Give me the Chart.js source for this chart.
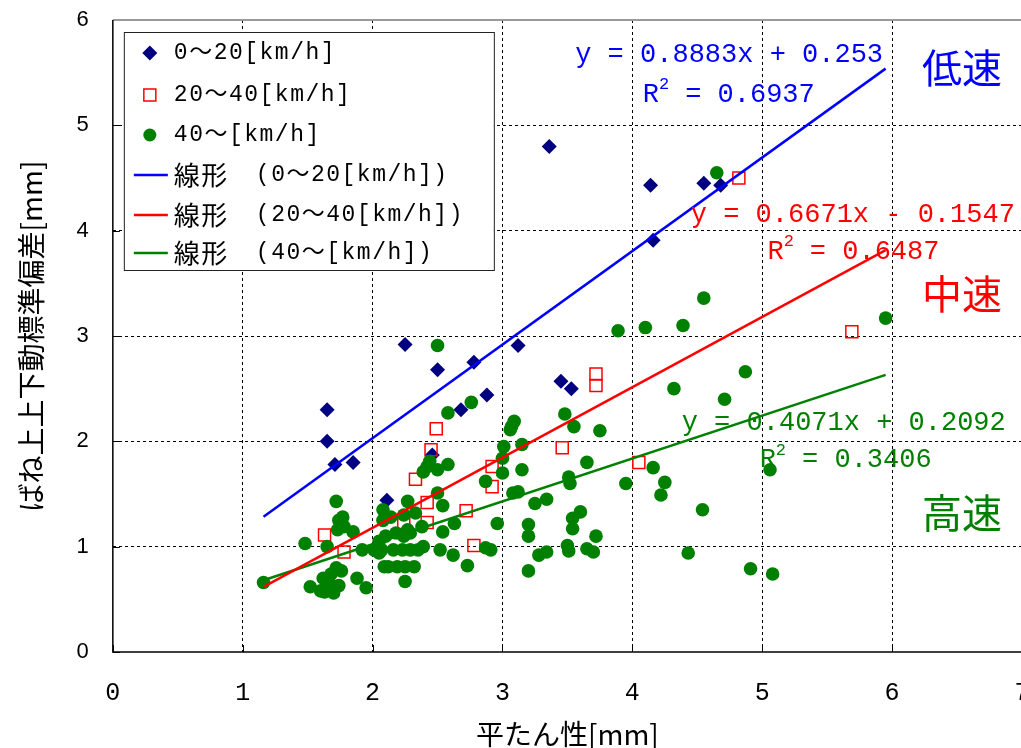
<!DOCTYPE html>
<html>
<head>
<meta charset="utf-8">
<script src="https://cdn.jsdelivr.net/npm/chart.js@4.4.1/dist/chart.umd.min.js"></script>
<style>
html, body { margin: 0; padding: 0; background: #fff; overflow: hidden; }
#wrap { width: 1057px; height: 748px; }
</style>
</head>
<body>
<div id="wrap"><canvas id="myChart"></canvas></div>
<script>
// series names and labels
const seriesNames = ['0～20[km/h]', '20～40[km/h]', '40～[km/h]']
const speedNames = ['低速', '中速', '高速']
const xTitle = '平たん性[mm]'
const yTitle = 'ばね上上下動標準偏差[mm]'
const xTicks = [0, 1, 2, 3, 4, 5, 6, 7]
const yTicks = [0, 1, 2, 3, 4, 5, 6]

// 0-20 km/h  [平たん性, 標準偏差]
const lowSpeed = [
  [1.65, 2.30], [1.65, 2.00], [1.71, 1.78], [1.85, 1.80], [2.11, 1.44],
  [2.25, 2.92], [2.50, 2.68], [2.46, 1.87], [2.68, 2.30], [2.78, 2.75],
  [2.88, 2.44], [3.12, 2.91], [3.36, 4.80], [3.45, 2.57], [3.53, 2.50],
  [4.14, 4.43], [4.16, 3.91], [4.55, 4.45], [4.68, 4.43]
]

// 20-40 km/h
const midSpeed = [
  [1.63, 1.11], [1.78, 0.95], [2.24, 1.23], [2.33, 1.64], [2.42, 1.42],
  [2.42, 1.23], [2.45, 1.92], [2.49, 2.12], [2.72, 1.34], [2.78, 1.01],
  [2.92, 1.76], [2.92, 1.57], [3.46, 1.94], [3.72, 2.64], [3.72, 2.53],
  [4.05, 1.80], [4.82, 4.50], [5.69, 3.04]
]

// 40- km/h
const highSpeed = [
  [1.16, 0.66], [1.48, 1.03], [1.52, 0.62], [1.60, 0.58], [1.62, 0.70],
  [1.63, 0.57], [1.65, 0.63], [1.65, 1.00], [1.66, 0.68], [1.68, 0.74],
  [1.70, 0.56], [1.72, 0.80], [1.72, 1.43], [1.74, 0.63], [1.74, 1.25],
  [1.76, 0.77], [1.77, 1.28], [1.78, 1.19], [1.73, 1.16], [1.85, 1.14],
  [1.88, 0.70], [1.92, 0.97], [1.95, 0.61], [2.01, 0.97], [2.05, 1.05],
  [2.05, 0.94], [2.07, 0.97], [2.10, 1.10], [2.08, 1.35], [2.14, 1.28],
  [2.08, 1.25], [2.09, 0.81], [2.12, 0.81], [2.16, 0.97], [2.18, 1.13],
  [2.19, 0.81], [2.23, 0.97], [2.24, 1.10], [2.24, 1.30], [2.25, 0.81],
  [2.25, 0.67], [2.27, 1.43], [2.27, 1.16], [2.29, 0.97], [2.29, 1.13],
  [2.32, 0.81], [2.33, 1.32], [2.35, 0.97], [2.38, 1.19], [2.39, 1.00],
  [2.39, 1.71], [2.42, 1.76], [2.44, 1.81], [2.50, 1.73], [2.50, 1.51],
  [2.50, 2.91], [2.52, 0.97], [2.54, 1.39], [2.54, 1.14], [2.58, 1.78],
  [2.58, 2.27], [2.62, 0.92], [2.63, 1.22], [2.73, 0.82], [2.76, 2.37],
  [2.87, 1.62], [2.87, 0.99], [2.91, 0.97], [2.96, 1.22], [3.00, 1.84],
  [3.00, 1.70], [3.01, 1.95], [3.06, 2.11], [3.07, 2.14], [3.09, 2.19],
  [3.12, 1.52], [3.08, 1.51], [3.15, 1.97], [3.15, 1.73], [3.20, 1.21],
  [3.20, 1.10], [3.20, 0.77], [3.25, 1.41], [3.28, 0.92], [3.34, 1.45],
  [3.34, 0.95], [3.48, 2.26], [3.50, 1.01], [3.51, 0.96], [3.51, 1.66],
  [3.52, 1.60], [3.54, 1.27], [3.54, 1.17], [3.55, 2.14], [3.60, 1.33],
  [3.65, 1.80], [3.65, 0.98], [3.70, 0.95], [3.72, 1.10], [3.75, 2.10],
  [3.89, 3.05], [3.95, 1.60], [4.10, 3.08], [4.16, 1.75], [4.22, 1.49],
  [4.25, 1.61], [4.32, 2.50], [4.39, 3.10], [4.43, 0.94], [4.54, 1.35],
  [4.55, 3.36], [4.65, 4.55], [4.71, 2.40], [4.87, 2.66], [4.91, 0.79],
  [5.06, 1.73], [5.08, 0.74], [5.95, 3.17]
]

// linear trend lines (from the chart's equations)
const slopes = [0.8883, 0.6671, 0.4071]
const intercepts = [0.253, -0.1547, 0.2092]
const r2Values = ['0.6937', '0.6487', '0.3406']
const eqTexts = ['y = 0.8883x + 0.253', 'y = 0.6671x - 0.1547', 'y = 0.4071x + 0.2092']
const trendRange = [1.16, 5.95]

const markColors = ['#000080', '#ff0000', '#008000']
const lineColors = ['#0000ff', '#ff0000', '#008000']

// where the equation / speed texts sit, in data units
const eqPos = [[3.56, 5.67], [4.45, 4.15], [4.38, 2.18]]
const r2Pos = [[4.08, 5.29], [5.04, 3.80], [4.98, 1.82]]
const speedPos = [[6.23, 5.55], [6.23, 3.40], [6.23, 1.32]]

const toPoints = arr => arr.map(p => ({x: p[0], y: p[1]}))
const trendPoints = i => trendRange.map(x => ({x: x, y: slopes[i] * x + intercepts[i]}))

const monoFont = "'Liberation Mono', 'Noto Sans CJK JP', monospace"
const cjkFont = "'Noto Sans CJK JP', sans-serif"

function drawMarker(ctx, i, x, y) {
  ctx.save()
  if (i == 0) {
    ctx.fillStyle = markColors[0]
    ctx.beginPath()
    ctx.moveTo(x, y - 7.5); ctx.lineTo(x + 7.5, y); ctx.lineTo(x, y + 7.5); ctx.lineTo(x - 7.5, y)
    ctx.closePath(); ctx.fill()
  } else if (i == 1) {
    ctx.strokeStyle = markColors[1]
    ctx.lineWidth = 1.5
    ctx.strokeRect(x - 6, y - 6, 12, 12)
  } else {
    ctx.fillStyle = markColors[2]
    ctx.beginPath(); ctx.arc(x, y, 6.5, 0, Math.PI * 2); ctx.fill()
  }
  ctx.restore()
}

const framePlugin = {
  id: 'frame',
  beforeDatasetsDraw(chart) {
    const {ctx, chartArea: a, scales} = chart
    ctx.save()
    // inner tick marks
    ctx.strokeStyle = '#000'
    ctx.lineWidth = 1
    ctx.beginPath()
    xTicks.forEach(v => {
      const px = Math.round(scales.x.getPixelForValue(v)) + 0.5
      ctx.moveTo(px, a.bottom); ctx.lineTo(px, a.bottom - 7)
    })
    yTicks.forEach(v => {
      const py = Math.round(scales.y.getPixelForValue(v)) + 0.5
      ctx.moveTo(a.left, py); ctx.lineTo(a.left + 7, py)
    })
    ctx.stroke()
    // box
    ctx.strokeStyle = '#999'
    ctx.lineWidth = 2
    ctx.beginPath(); ctx.moveTo(a.left, a.top); ctx.lineTo(a.right, a.top); ctx.stroke()
    ctx.strokeStyle = '#000'
    ctx.lineWidth = 1.5
    ctx.beginPath()
    ctx.moveTo(a.left, a.top); ctx.lineTo(a.left, a.bottom); ctx.lineTo(a.right, a.bottom)
    ctx.stroke()
    ctx.restore()
  },
  afterDraw(chart) {
    const {ctx, chartArea: a, scales} = chart
    ctx.save()
    ctx.textBaseline = 'middle'
    ctx.textAlign = 'left'
    // equations and R^2
    for (let i = 0; i < 3; i++) {
      ctx.fillStyle = lineColors[i]
      ctx.font = '27px ' + monoFont
      let px = scales.x.getPixelForValue(eqPos[i][0])
      let py = scales.y.getPixelForValue(eqPos[i][1])
      ctx.fillText(eqTexts[i], px, py)
      px = scales.x.getPixelForValue(r2Pos[i][0])
      py = scales.y.getPixelForValue(r2Pos[i][1])
      ctx.fillText('R', px, py)
      const rw = ctx.measureText('R').width
      ctx.font = '17px ' + monoFont
      ctx.fillText('2', px + rw, py - 10)
      ctx.font = '27px ' + monoFont
      ctx.fillText(' = ' + r2Values[i], px + rw + 10, py)
      // speed class
      ctx.font = '40px ' + cjkFont
      ctx.fillText(speedNames[i], scales.x.getPixelForValue(speedPos[i][0]), scales.y.getPixelForValue(speedPos[i][1]))
    }
    // legend box
    const lx = a.left + 11, ly = a.top + 12, lw = 370, lh = 238
    ctx.fillStyle = '#fff'
    ctx.fillRect(lx, ly, lw, lh)
    ctx.strokeStyle = '#222'
    ctx.lineWidth = 1
    ctx.strokeRect(lx + 0.5, ly + 0.5, lw, lh)
    const rows = [21, 63, 103, 143, 183, 221]
    ctx.letterSpacing = '1.5px'
    for (let i = 0; i < 3; i++) {
      const ry = ly + rows[i]
      drawMarker(ctx, i, lx + 26, ry)
      ctx.fillStyle = '#000'
      ctx.font = '23px ' + monoFont
      ctx.fillText(seriesNames[i], lx + 50, ry)
    }
    for (let i = 0; i < 3; i++) {
      const ry = ly + rows[i + 3]
      ctx.strokeStyle = lineColors[i]
      ctx.lineWidth = 2.5
      ctx.beginPath(); ctx.moveTo(lx + 10, ry); ctx.lineTo(lx + 44, ry); ctx.stroke()
      ctx.fillStyle = '#000'
      ctx.font = '26px ' + cjkFont
      ctx.fillText('線形', lx + 50, ry)
      ctx.font = '23px ' + monoFont
      ctx.fillText('(' + seriesNames[i] + ')', lx + 132, ry)
    }
    ctx.restore()
  }
}

const gridColor = (ctx, max) => (ctx.tick.value == 0 || ctx.tick.value == max) ? 'rgba(0,0,0,0)' : '#000'

const ctx1 = document.getElementById('myChart')

const myChart = new Chart(ctx1, {
  type: 'scatter',
  data: {
    datasets: [
      {
        label: 'trend ' + seriesNames[0],
        data: trendPoints(0),
        showLine: true,
        borderColor: lineColors[0],
        borderWidth: 2.5,
        pointRadius: 0,
        order: 0
      },
      {
        label: 'trend ' + seriesNames[1],
        data: trendPoints(1),
        showLine: true,
        borderColor: lineColors[1],
        borderWidth: 2.5,
        pointRadius: 0,
        order: 0
      },
      {
        label: 'trend ' + seriesNames[2],
        data: trendPoints(2),
        showLine: true,
        borderColor: lineColors[2],
        borderWidth: 2.5,
        pointRadius: 0,
        order: 0
      },
      {
        label: seriesNames[2],
        data: toPoints(highSpeed),
        pointStyle: 'circle',
        pointRadius: 6.8,
        backgroundColor: markColors[2],
        borderColor: markColors[2],
        borderWidth: 0,
        order: 1
      },
      {
        label: seriesNames[1],
        data: toPoints(midSpeed),
        pointStyle: 'rect',
        pointRadius: 8.5,
        backgroundColor: 'rgba(0,0,0,0)',
        borderColor: markColors[1],
        borderWidth: 1.5,
        order: 2
      },
      {
        label: seriesNames[0],
        data: toPoints(lowSpeed),
        pointStyle: 'rectRot',
        pointRadius: 7.5,
        backgroundColor: markColors[0],
        borderColor: markColors[0],
        borderWidth: 0,
        order: 3
      }
    ]
  },
  options: {
    responsive: true,
    maintainAspectRatio: false,
    animation: false,
    events: [],
    layout: {padding: {left: 15, right: 35, top: 20, bottom: 0}},
    plugins: {
      legend: {display: false},
      tooltip: {enabled: false}
    },
    scales: {
      x: {
        type: 'linear',
        min: 0,
        max: 7,
        afterBuildTicks: s => { s.ticks = xTicks.map(v => ({value: v})) },
        afterFit: s => { s.height = 96; s.paddingLeft = 0; s.paddingRight = 0 },
        grid: {color: c => gridColor(c, 7), lineWidth: 1, drawTicks: false},
        border: {display: false, dash: [3, 3]},
        ticks: {color: '#000', padding: 26, maxRotation: 0, font: {family: monoFont, size: 25}},
        title: {display: true, text: xTitle, color: '#000', font: {family: cjkFont, size: 28, lineHeight: 1.0}, padding: {top: 0, bottom: 0}}
      },
      y: {
        type: 'linear',
        min: 0,
        max: 6,
        afterBuildTicks: s => { s.ticks = yTicks.map(v => ({value: v})) },
        afterFit: s => { s.paddingTop = 0; s.paddingBottom = 0 },
        grid: {color: c => gridColor(c, 6), lineWidth: 1, drawTicks: false},
        border: {display: false, dash: [3, 3]},
        ticks: {color: '#000', padding: 24, font: {family: "'Liberation Sans', Arial, sans-serif", size: 22}},
        title: {display: true, text: yTitle, color: '#000', font: {family: cjkFont, size: 28}, padding: {top: 0, bottom: 4}}
      }
    }
  },
  plugins: [framePlugin]
})
</script>
</body>
</html>
